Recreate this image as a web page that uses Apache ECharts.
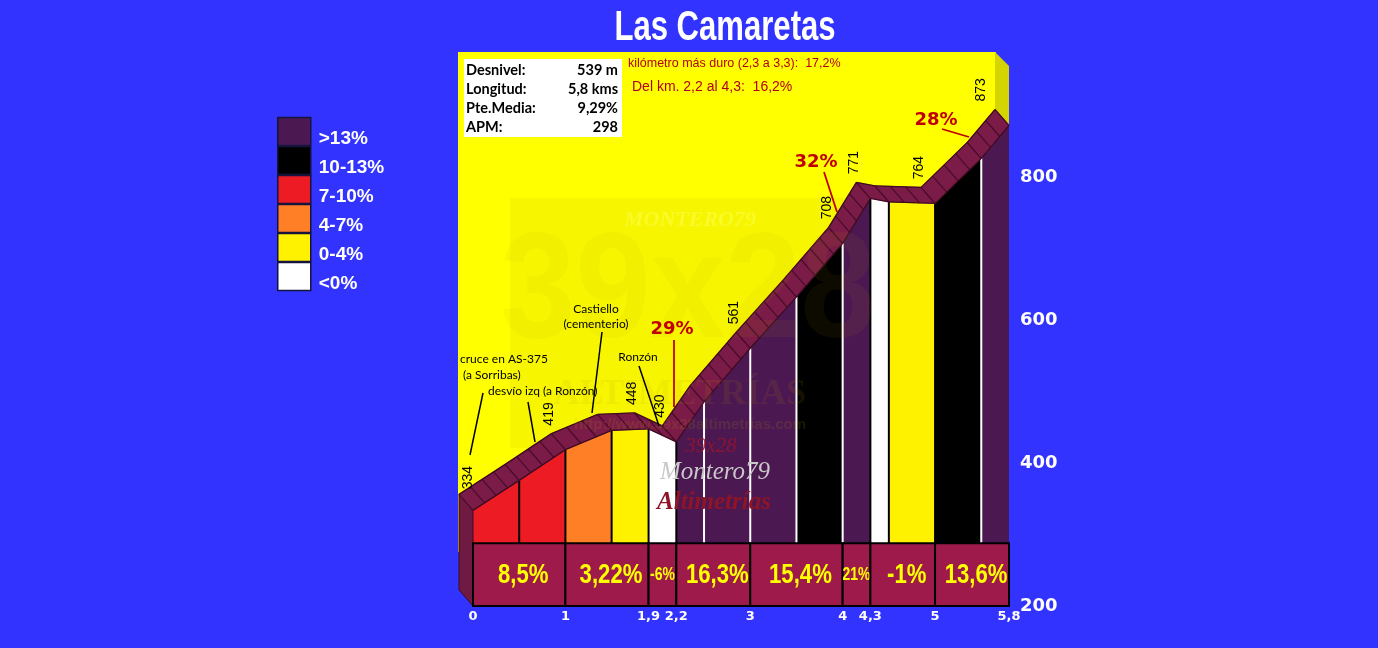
<!DOCTYPE html>
<html><head><meta charset="utf-8">
<script src="https://cdn.jsdelivr.net/npm/echarts@6/dist/echarts.min.js"></script>
<style>html,body{margin:0;padding:0;background:#3333ff;}#c{width:1378px;height:648px;}</style>
</head><body><div id="c"></div>
<script>
// ---- data ----
const profileKm   = [0, 0.5, 1, 1.5, 1.9, 2.2, 2.5, 3, 3.5, 4, 4.3, 4.5, 5, 5.5, 5.8];
const profileElev = [334, 376, 419, 446, 448, 430, 486, 561, 633, 708, 771, 766, 764, 827, 873];
const intervalCat = ['7-10%','7-10%','4-7%','0-4%','<0%','>13%','>13%','>13%','10-13%','>13%','<0%','0-4%','10-13%','>13%'];
const categories  = ['>13%','10-13%','7-10%','4-7%','0-4%','<0%'];
const catColors   = ['#4c1852','#000000','#ed1c24','#ff7f27','#fff200','#ffffff'];
const sectionStart = [0, 1, 1.9, 2.2, 3, 4, 4.3, 5];
const sectionEnd   = [1, 1.9, 2.2, 3, 4, 4.3, 5, 5.8];
const sectionGrade = ['8,5%','3,22%','-6%','16,3%','15,4%','21%','-1%','13,6%'];
const labelKm   = [0, 1, 1.9, 2.2, 3, 4, 4.3, 5, 5.8];
const labelElev = [334, 419, 448, 430, 561, 708, 771, 764, 873];
const xTicks = [0, 1, 1.9, 2.2, 3, 4, 4.3, 5, 5.8];
const yTicks = [200, 400, 600, 800];
const statNames  = ['Desnivel:', 'Longitud:', 'Pte.Media:', 'APM:'];
const statValues = ['539 m', '5,8 kms', '9,29%', '298'];
const maxTexts = ['29%', '32%', '28%'];
const placeNames = ['cruce en AS-375', '(a Sorribas)', 'desvío izq (a Ronzón)', 'Castiello', '(cementerio)', 'Ronzón'];

// ---- style constants ----
const BASE = 200, BAND_TOP = 288;
const OFF = [-14, -16];
const BOLDSANS = '"Liberation Sans", Arial, sans-serif';

const chart = echarts.init(document.getElementById('c'));

function colSeries(cat, ci) {
  const data = [];
  for (let i = 0; i < intervalCat.length; i++) {
    if (intervalCat[i] === cat) data.push([profileKm[i], profileElev[i], profileKm[i + 1], profileElev[i + 1]]);
  }
  return {
    type: 'custom', name: cat, coordinateSystem: 'cartesian2d', z: 2,
    itemStyle: { color: catColors[ci], borderColor: '#14143c', borderWidth: 1.5 },
    encode: { x: [0, 2], y: [1, 3] },
    data: data,
    renderItem: function (params, api) {
      const a = api.coord([api.value(0), BAND_TOP]);
      const b = api.coord([api.value(0), api.value(1)]);
      const c = api.coord([api.value(2), api.value(3)]);
      const d = api.coord([api.value(2), BAND_TOP]);
      return { type: 'polygon', shape: { points: [a, b, c, d] }, style: { fill: catColors[ci] } };
    }
  };
}

const dark = ['>13%', '10-13%'];
const sepData = [];
for (let i = 1; i < profileKm.length - 1; i++) {
  sepData.push([profileKm[i], profileElev[i], (dark.includes(intervalCat[i - 1]) && dark.includes(intervalCat[i])) ? 1 : 0]);
}

const series = categories.map(colSeries);

series.push({
  type: 'custom', name: 'sep', z: 3, data: sepData, encode: { x: 0, y: 1 },
  renderItem: function (params, api) {
    const a = api.coord([api.value(0), BAND_TOP]);
    const b = api.coord([api.value(0), api.value(1)]);
    return { type: 'line', shape: { x1: a[0], y1: a[1], x2: b[0], y2: b[1] },
      style: { stroke: api.value(2) ? '#ffffff' : '#000000', lineWidth: 2 } };
  }
});

// ribbon (3D profile band)
series.push({
  type: 'custom', name: 'ribbon', z: 4,
  data: profileKm.map((k, i) => [k, profileElev[i]]), encode: { x: 0, y: 1 },
  renderItem: function (params, api) {
    const i = params.dataIndex;
    const ch = [];
    const o = (p) => [p[0] + OFF[0], p[1] + OFF[1]];
    if (i === 0) {
      const t = api.coord([profileKm[0], profileElev[0]]);
      const bt = api.coord([profileKm[0], BASE]);
      ch.push({ type: 'polygon', shape: { points: [o(t), t, bt, o(bt)] }, style: { fill: '#6e1a42', stroke: '#3d0a22', lineWidth: 1 } });
      return { type: 'group', children: ch };
    }
    const p1 = api.coord([profileKm[i - 1], profileElev[i - 1]]);
    const p2 = api.coord([profileKm[i], profileElev[i]]);
    ch.push({ type: 'polygon', shape: { points: [p1, p2, o(p2), o(p1)] }, style: { fill: '#7b1c48', stroke: '#7b1c48', lineWidth: 0.6 } });
    const len = Math.hypot(p2[0] - p1[0], p2[1] - p1[1]);
    const n = Math.max(1, Math.round(len / 15));
    for (let j = 0; j <= n; j++) {
      const t = j / n;
      const q = [p1[0] + (p2[0] - p1[0]) * t, p1[1] + (p2[1] - p1[1]) * t];
      const r = o(q);
      ch.push({ type: 'line', shape: { x1: q[0], y1: q[1], x2: r[0], y2: r[1] }, style: { stroke: '#4a0c29', lineWidth: 1.3 } });
    }
    ch.push({ type: 'line', shape: { x1: p1[0], y1: p1[1], x2: p2[0], y2: p2[1] }, style: { stroke: '#3d0a22', lineWidth: 1.3 } });
    const u1 = o(p1), u2 = o(p2);
    ch.push({ type: 'line', shape: { x1: u1[0], y1: u1[1], x2: u2[0], y2: u2[1] }, style: { stroke: '#3d0a22', lineWidth: 1.3 } });
    return { type: 'group', children: ch };
  }
});

// bottom band with section gradients
series.push({
  type: 'custom', name: 'band', z: 5,
  data: sectionStart.map((s, i) => [s, sectionEnd[i]]), encode: { x: [0, 1] },
  renderItem: function (params, api) {
    const a = api.coord([api.value(0), BAND_TOP]);
    const b = api.coord([api.value(1), BASE]);
    const w = b[0] - a[0];
    const txt = sectionGrade[params.dataIndex];
    const small = w < 40;
    return { type: 'group', children: [
      { type: 'rect', shape: { x: a[0], y: a[1], width: w, height: b[1] - a[1] }, style: { fill: '#9e1a4b', stroke: '#000', lineWidth: 2 } },
      { type: 'text', x: a[0] + w / 2 + (small ? 0 : 4), y: (a[1] + b[1]) / 2 + 1, scaleX: small ? 0.8 : 0.82,
        style: { text: txt, fill: '#ffff00', align: 'center', verticalAlign: 'middle',
          font: 'bold ' + (small ? 17.5 : 27) + 'px ' + BOLDSANS } }
    ] };
  }
});

// elevation labels
series.push({
  type: 'custom', name: 'elev', z: 6,
  data: labelKm.map((k, i) => [k, labelElev[i]]), encode: { x: 0, y: 1 },
  renderItem: function (params, api) {
    const p = api.coord([api.value(0), api.value(1)]);
    let x = p[0] + OFF[0] - 2, y = p[1] + OFF[1] - 8;
    if (params.dataIndex === labelKm.length - 1) x -= 12;
    if (params.dataIndex === 0) { x += 11; y += 3; }
    return { type: 'text', x: x, y: y, rotation: Math.PI / 2,
      style: { text: String(api.value(1)), fill: '#000', align: 'left', verticalAlign: 'middle',
        font: '14px "Liberation Sans", Arial, sans-serif' } };
  }
});

const gfx = [];
// title
gfx.push({ type: 'text', z: 30, x: 725, y: 28, scaleX: 0.74,
  style: { text: 'Las Camaretas', fill: '#ffffff', align: 'center', verticalAlign: 'middle', font: 'bold 42px ' + BOLDSANS } });
// yellow panel + bevel
gfx.push({ type: 'rect', z: -5, shape: { x: 458, y: 52, width: 538, height: 500 }, style: { fill: '#ffff00' } });
gfx.push({ type: 'polygon', z: -5, shape: { points: [[995, 52], [1009, 66], [1009, 545], [995, 545]] }, style: { fill: '#d4d400' } });
// watermark
gfx.push({ type: 'rect', z: 1, shape: { x: 510, y: 198, width: 335, height: 250 }, style: { fill: 'rgba(120,110,0,0.06)' } });
gfx.push({ type: 'text', z: 10, x: 688, y: 296, scaleX: 0.9, style: { text: '39x28', fill: 'rgba(190,160,0,0.07)', align: 'center', verticalAlign: 'middle', font: 'bold 150px ' + BOLDSANS } });
gfx.push({ type: 'text', z: 10, x: 680, y: 395, style: { text: 'ALTIMETRÍAS', fill: 'rgba(190,150,0,0.11)', align: 'center', verticalAlign: 'middle', font: 'bold 36px "Liberation Serif", serif' } });
gfx.push({ type: 'text', z: 10, x: 690, y: 220, style: { text: 'MONTERO79', fill: 'rgba(255,255,120,0.35)', align: 'center', verticalAlign: 'middle', font: 'italic bold 22px "Liberation Serif", serif' } });
gfx.push({ type: 'text', z: 10, x: 690, y: 425, style: { text: 'http://www.39x28altimetrias.com', fill: 'rgba(200,170,0,0.13)', align: 'center', verticalAlign: 'middle', font: 'bold 15px ' + BOLDSANS } });
gfx.push({ type: 'text', z: 10, x: 711, y: 446, style: { text: '39x28', fill: 'rgba(150,20,45,0.85)', align: 'center', verticalAlign: 'middle', font: 'italic 21px "Liberation Serif", serif' } });
gfx.push({ type: 'text', z: 10, x: 715, y: 472, style: { text: 'Montero79', fill: '#c8c8c8', align: 'center', verticalAlign: 'middle', font: 'italic 25px "Liberation Serif", serif' } });
gfx.push({ type: 'text', z: 10, x: 714, y: 503, style: { text: 'Altimetrías', fill: '#8e1428', align: 'center', verticalAlign: 'middle', font: 'italic bold 25px "Liberation Serif", serif' } });
// info box
gfx.push({ type: 'rect', z: 20, shape: { x: 464, y: 59, width: 158, height: 78 }, style: { fill: '#ffffff' } });
const rowsY = [70, 89, 108, 127];
statNames.forEach((s, i) => {
  gfx.push({ type: 'text', z: 21, x: 466, y: rowsY[i], style: { text: s, fill: '#000', align: 'left', verticalAlign: 'middle', font: 'bold 14.5px Lato, sans-serif' } });
  gfx.push({ type: 'text', z: 21, x: 618, y: rowsY[i], style: { text: statValues[i], fill: '#000', align: 'right', verticalAlign: 'middle', font: 'bold 14.5px Lato, sans-serif' } });
});
gfx.push({ type: 'text', z: 21, x: 628, y: 64, style: { text: 'kilómetro más duro (2,3 a 3,3):  17,2%', fill: '#b0001a', align: 'left', verticalAlign: 'middle', font: '12.5px "Liberation Sans", sans-serif' } });
gfx.push({ type: 'text', z: 21, x: 632, y: 87, style: { text: 'Del km. 2,2 al 4,3:  16,2%', fill: '#b0001a', align: 'left', verticalAlign: 'middle', font: '14px "Liberation Sans", sans-serif' } });
// place labels
const placePos = [[460, 359, 'left'], [463, 375, 'left'], [488, 391, 'left'], [596, 309, 'center'], [596, 324, 'center'], [638, 357, 'center']];
placeNames.forEach((t, i) => {
  gfx.push({ type: 'text', z: 21, x: placePos[i][0], y: placePos[i][1], style: { text: t, fill: '#000', align: placePos[i][2], verticalAlign: 'middle', font: '12px Lato, sans-serif' } });
});
const leaders = [[483, 393, 470, 455], [528, 402, 535, 442], [602, 332, 592, 413], [639, 366, 659, 426]];
leaders.forEach(l => gfx.push({ type: 'line', z: 21, shape: { x1: l[0], y1: l[1], x2: l[2], y2: l[3] }, style: { stroke: '#000', lineWidth: 1.5 } }));
// max gradient annotations
const maxPos = [[672, 329, 674, 340, 674, 407], [816, 162, 824, 172, 837, 212], [936, 120, 942, 129, 969, 137]];
maxTexts.forEach((t, i) => {
  const p = maxPos[i];
  gfx.push({ type: 'text', z: 21, x: p[0], y: p[1], style: { text: t, fill: '#c00000', align: 'center', verticalAlign: 'middle', font: 'bold 18px "DejaVu Sans", sans-serif' } });
  gfx.push({ type: 'line', z: 21, shape: { x1: p[2], y1: p[3], x2: p[4], y2: p[5] }, style: { stroke: '#c00000', lineWidth: 1.8 } });
});

chart.setOption({
  backgroundColor: '#3333ff',
  animation: false,
  legend: {
    data: categories, orient: 'vertical', left: 277, top: 115, padding: 0, itemWidth: 33, itemHeight: 28, itemGap: -4,
    icon: 'rect', selectedMode: false,
    itemStyle: { borderColor: '#14143c', borderWidth: 1.5 },
    formatter: name => '{t|' + name + '}',
    textStyle: { color: '#ffffff', fontSize: 19, fontWeight: 'bold', fontFamily: BOLDSANS,
      rich: { t: { color: '#ffffff', fontSize: 19, fontWeight: 'bold', fontFamily: BOLDSANS, lineHeight: 14, padding: [14, 0, 0, 3] } } }
  },
  grid: { left: 473, right: 369, top: 52, bottom: 42, containLabel: false, outerBoundsMode: 'none' },
  xAxis: { type: 'value', min: 0, max: 5.8,
    axisLine: { show: false }, axisTick: { show: false }, splitLine: { show: false },
    axisLabel: { customValues: xTicks, formatter: v => String(v).replace('.', ','), color: '#ffffff', fontWeight: 'bold', fontSize: 13, margin: 4, fontFamily: '"DejaVu Sans", sans-serif' } },
  yAxis: { type: 'value', position: 'right', min: 200, max: 976,
    axisLine: { show: false }, axisTick: { show: false }, splitLine: { show: false },
    axisLabel: { customValues: yTicks, color: '#ffffff', fontWeight: 'bold', fontSize: 18, margin: 11, fontFamily: '"DejaVu Sans", sans-serif' } },
  graphic: { elements: gfx },
  series: series
});
</script></body></html>
